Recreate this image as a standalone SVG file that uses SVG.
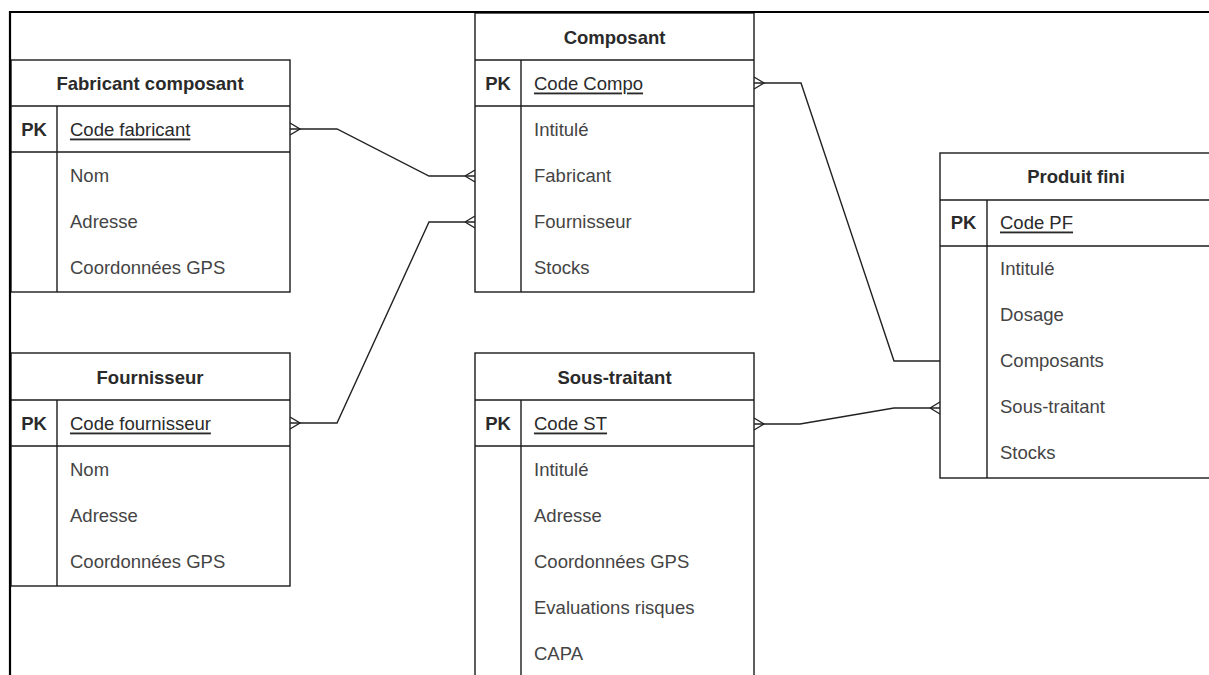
<svg xmlns="http://www.w3.org/2000/svg" width="1209" height="675" viewBox="0 0 1209 675">
<style>
.box{fill:#fff;stroke:#1a1a1a;stroke-width:1.4}
.ln{stroke:#1a1a1a;stroke-width:1.4;fill:none}
.t{font-family:"Liberation Sans",Arial,sans-serif;font-size:18.5px;font-weight:bold;fill:#2a2a2a;text-anchor:middle;dominant-baseline:central}
.pk{font-family:"Liberation Sans",Arial,sans-serif;font-size:18.5px;font-weight:bold;fill:#2a2a2a;text-anchor:middle;dominant-baseline:central}
.k{font-family:"Liberation Sans",Arial,sans-serif;font-size:18.5px;fill:#2a2a2a;text-decoration:underline;dominant-baseline:central}
.a{font-family:"Liberation Sans",Arial,sans-serif;font-size:18.5px;fill:#444;dominant-baseline:central}
.fr{stroke:#000;stroke-width:2.2;fill:none}
.c{stroke:#222;stroke-width:1.4;fill:none}
</style>
<rect width="1209" height="675" fill="#fff"/>

<g id="fabricant">
<rect class="box" x="11" y="60" width="279" height="232"/>
<line class="ln" x1="11" y1="106" x2="290" y2="106"/>
<line class="ln" x1="11" y1="152" x2="290" y2="152"/>
<line class="ln" x1="57" y1="106" x2="57" y2="292"/>
<text class="t" x="150" y="83">Fabricant composant</text>
<text class="pk" x="34" y="129">PK</text>
<text class="k" x="70" y="129">Code fabricant</text>
<text class="a" x="70" y="175">Nom</text>
<text class="a" x="70" y="221">Adresse</text>
<text class="a" x="70" y="267">Coordonnées GPS</text>
</g>

<g id="composant">
<rect class="box" x="475" y="13" width="279" height="279"/>
<line class="ln" x1="475" y1="60" x2="754" y2="60"/>
<line class="ln" x1="475" y1="106" x2="754" y2="106"/>
<line class="ln" x1="521" y1="60" x2="521" y2="292"/>
<text class="t" x="614.5" y="37">Composant</text>
<text class="pk" x="498" y="83">PK</text>
<text class="k" x="534" y="83">Code Compo</text>
<text class="a" x="534" y="129">Intitulé</text>
<text class="a" x="534" y="175">Fabricant</text>
<text class="a" x="534" y="221">Fournisseur</text>
<text class="a" x="534" y="267">Stocks</text>
</g>

<g id="fournisseur">
<rect class="box" x="11" y="353" width="279" height="233"/>
<line class="ln" x1="11" y1="400" x2="290" y2="400"/>
<line class="ln" x1="11" y1="446" x2="290" y2="446"/>
<line class="ln" x1="57" y1="400" x2="57" y2="586"/>
<text class="t" x="150" y="377">Fournisseur</text>
<text class="pk" x="34" y="423">PK</text>
<text class="k" x="70" y="423">Code fournisseur</text>
<text class="a" x="70" y="469">Nom</text>
<text class="a" x="70" y="515">Adresse</text>
<text class="a" x="70" y="561">Coordonnées GPS</text>
</g>

<g id="soustraitant">
<rect class="box" x="475" y="353" width="279" height="340"/>
<line class="ln" x1="475" y1="400" x2="754" y2="400"/>
<line class="ln" x1="475" y1="446" x2="754" y2="446"/>
<line class="ln" x1="521" y1="400" x2="521" y2="693"/>
<text class="t" x="614.5" y="377">Sous-traitant</text>
<text class="pk" x="498" y="423">PK</text>
<text class="k" x="534" y="423">Code ST</text>
<text class="a" x="534" y="469">Intitulé</text>
<text class="a" x="534" y="515">Adresse</text>
<text class="a" x="534" y="561">Coordonnées GPS</text>
<text class="a" x="534" y="607">Evaluations risques</text>
<text class="a" x="534" y="653">CAPA</text>
</g>

<g id="produitfini">
<rect class="box" x="940" y="153" width="272" height="325"/>
<line class="ln" x1="940" y1="200" x2="1212" y2="200"/>
<line class="ln" x1="940" y1="246" x2="1212" y2="246"/>
<line class="ln" x1="987" y1="200" x2="987" y2="478"/>
<text class="t" x="1076" y="176">Produit fini</text>
<text class="pk" x="963.5" y="222">PK</text>
<text class="k" x="1000" y="222">Code PF</text>
<text class="a" x="1000" y="268">Intitulé</text>
<text class="a" x="1000" y="314">Dosage</text>
<text class="a" x="1000" y="360">Composants</text>
<text class="a" x="1000" y="406">Sous-traitant</text>
<text class="a" x="1000" y="452">Stocks</text>
</g>

<g id="connectors">
<polyline class="c" points="290,129 337,129 429,176 475,176"/>
<path class="c" d="M290,123 L300,129 L290,135 M465,176 L475,170 M465,176 L475,182"/>
<polyline class="c" points="290,423 337,423 429,222 475,222"/>
<path class="c" d="M290,417 L300,423 L290,429 M465,222 L475,216 M465,222 L475,228"/>
<polyline class="c" points="754,83 801,83 894,361 940,361"/>
<path class="c" d="M754,77 L764,83 L754,89"/>
<polyline class="c" points="754,424 800,424 894,408 940,408"/>
<path class="c" d="M754,418 L764,424 L754,430 M930,408 L940,402 M930,408 L940,414"/>
</g>

<g id="frame">
<polyline class="fr" points="10,675 10,12 1209,12"/>
</g>
</svg>
